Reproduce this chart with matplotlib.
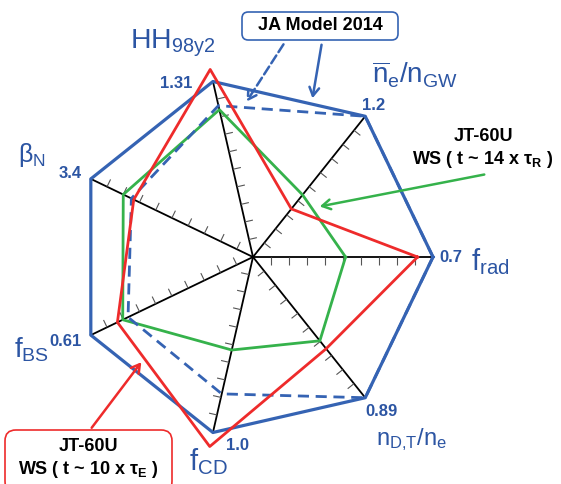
import numpy as np
import matplotlib
matplotlib.use("Agg")
import matplotlib.pyplot as plt
from matplotlib.collections import LineCollection
from matplotlib.patches import FancyBboxPatch

plt.rcParams['font.family'] = ['Liberation Sans', 'DejaVu Sans']
plt.rcParams['mathtext.default'] = 'regular'

# spokes, counter-clockwise starting from f_rad
labels = ['f_rad', 'ne/nGW', 'HH98y2', 'betaN', 'fBS', 'fCD', 'nDT/ne']
axis_max = [0.7, 1.2, 1.31, 3.4, 0.61, 1.0, 0.89]
max_labels = ['0.7', '1.2', '1.31', '3.4', '0.61', '1.0', '0.89']

ja_model = [0.7, 1.2, 1.31, 3.4, 0.61, 1.0, 0.89]
ja_model_alt = [0.7, 1.2, 1.13, 2.55, 0.47, 0.78, 0.89]
jt60u_10tauE = [0.64, 0.41, 1.40, 2.5, 0.51, 1.08, 0.58]
jt60u_14tauR = [0.36, 0.53, 1.10, 2.72, 0.49, 0.53, 0.53]

BLUE = '#3563b3'
TXT_BLUE = '#2c55a3'
RED = '#ee2b2b'
GREEN = '#35b24b'

W, H = 561, 484
SC = 180.0          # pixels per unit radius
CX, CY = 253, 257   # centre of the chart in pixels

fig = plt.figure(figsize=(W / 100, H / 100), dpi=100)
ax = fig.add_axes([0, 0, 1, 1])
ax.set_xlim(-CX / SC, (W - CX) / SC)
ax.set_ylim(-(H - CY) / SC, CY / SC)
ax.set_aspect('equal')
ax.axis('off')


def px(x, y):
    # pixel position (from top-left) -> data coordinates
    return (x - CX) / SC, (CY - y) / SC


n = len(labels)
theta = np.arange(n) * 2 * np.pi / n


def xy(vals):
    r = np.array(vals) / np.array(axis_max)
    r = np.append(r, r[0])
    t = np.append(theta, theta[0])
    return r * np.cos(t), r * np.sin(t)


# spokes
for t in theta:
    ax.plot([0, np.cos(t)], [0, np.sin(t)], color='black', lw=1.3, zorder=2)

# small tick marks on the clockwise side of each spoke
segs = []
tl = 0.045
for t in theta:
    d = np.array([np.cos(t), np.sin(t)])
    p = np.array([np.sin(t), -np.cos(t)])
    for f in np.arange(1, 10) / 10:
        a = f * d
        segs.append([a, a + tl * p])
ax.add_collection(LineCollection(segs, colors='#555555', linewidths=0.8, zorder=2))

x, y = xy(ja_model)
ax.plot(x, y, color=BLUE, lw=2.3, zorder=3)
x, y = xy(jt60u_14tauR)
ax.plot(x, y, color=GREEN, lw=2.0, zorder=4)
x, y = xy(jt60u_10tauE)
ax.plot(x, y, color=RED, lw=2.0, zorder=5)
x, y = xy(ja_model_alt)
ax.plot(x, y, color=BLUE, lw=2.0, ls=(0, (4, 2.4)), zorder=4)

# axis maximum values
max_pos = [(451, 258), (374, 105), (176, 83), (70, 173), (66, 342), (237, 445), (381, 412)]
for s, p in zip(max_labels, max_pos):
    ax.text(*px(*p), s, color=TXT_BLUE, fontsize=12, fontweight='bold',
            ha='center', va='center')

# axis names
names = [r'$f_{rad}$', r'$\overline{n}_e/n_{GW}$', r'$HH_{98y2}$', r'$\beta_N$',
         r'$f_{BS}$', r'$f_{CD}$', r'$n_{D{,}T}/n_e$']
name_pos = [(490, 262), (415, 75), (173, 43), (32, 155), (32, 350), (208, 462), (412, 440)]
name_size = [21, 20, 20.5, 18, 20, 21, 17]
for s, p, fs in zip(names, name_pos, name_size):
    ax.text(*px(*p), s, color=TXT_BLUE, fontsize=fs, ha='center', va='center')

arrow = '->,head_length=0.6,head_width=0.35'

# JA Model 2014 legend box and arrows
x0, y0 = px(242, 40)
x1, y1 = px(398, 12)
ax.add_patch(FancyBboxPatch((x0, y0), x1 - x0, y1 - y0,
                            boxstyle='round,pad=0,rounding_size=0.035',
                            fc='white', ec=BLUE, lw=1.2, zorder=6))
ax.text(*px(320, 26), 'JA Model 2014', fontsize=13, fontweight='bold',
        ha='center', va='center', zorder=7)
ax.annotate('', xy=px(245, 104), xytext=px(285, 42),
            arrowprops=dict(arrowstyle=arrow, color=BLUE, lw=1.8, ls='--'), zorder=6)
ax.annotate('', xy=px(312, 101), xytext=px(322, 42),
            arrowprops=dict(arrowstyle=arrow, color=BLUE, lw=1.8), zorder=6)

# JT-60U 14 tau_R
ax.text(*px(483, 149), 'JT-60U\nWS ( t ~ 14 x τ$_R$ )', fontsize=13,
        fontweight='bold', ha='center', va='center', linespacing=1.25)
ax.annotate('', xy=px(317, 207), xytext=px(487, 174),
            arrowprops=dict(arrowstyle=arrow, color=GREEN, lw=1.8), zorder=6)

# JT-60U 10 tau_E
x0, y0 = px(5, 492)
x1, y1 = px(172, 430)
ax.add_patch(FancyBboxPatch((x0, y0), x1 - x0, y1 - y0,
                            boxstyle='round,pad=0,rounding_size=0.06',
                            fc='white', ec=RED, lw=1.2, zorder=6))
ax.text(*px(88, 459), 'JT-60U\nWS ( t ~ 10 x τ$_E$ )', fontsize=13,
        fontweight='bold', ha='center', va='center', linespacing=1.25, zorder=7)
ax.annotate('', xy=px(143, 360), xytext=px(90, 430),
            arrowprops=dict(arrowstyle=arrow, color=RED, lw=1.8), zorder=6)

fig.savefig('out.png', dpi=100)
